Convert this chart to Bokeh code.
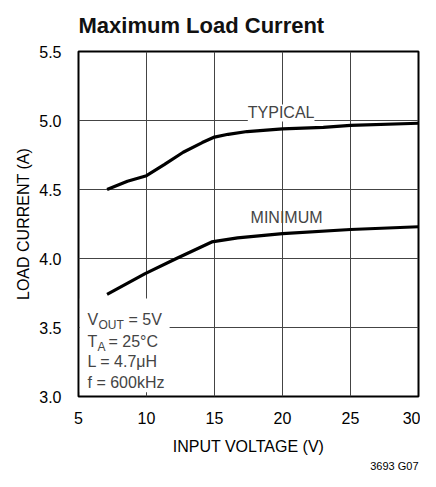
from bokeh.plotting import figure
from bokeh.models import Range1d, FixedTicker, Label, BoxAnnotation, PrintfTickFormatter, Title
from bokeh.embed import file_html
from bokeh.resources import INLINE

# ---- data ----
typ_v = [7.1, 8.6, 10.0, 11.3, 12.7, 14.1, 15.0, 16.0, 17.4, 20.0, 23.0, 25.0, 30.0]
typ_i = [4.50, 4.56, 4.60, 4.68, 4.77, 4.84, 4.88, 4.90, 4.92, 4.94, 4.95, 4.965, 4.98]
min_v = [7.1, 9.9, 12.2, 14.8, 16.7, 20.0, 25.0, 30.0]
min_i = [3.74, 3.89, 4.00, 4.12, 4.15, 4.18, 4.21, 4.23]
x_ticks = [5, 10, 15, 20, 25, 30]
y_ticks = [3.0, 3.5, 4.0, 4.5, 5.0, 5.5]

FONT = "Liberation Sans"

p = figure(width=420, height=471, output_backend="svg", toolbar_location=None,
           x_range=Range1d(5, 30), y_range=Range1d(3.0, 5.5),
           min_border_left=78, min_border_right=2, min_border_top=51, min_border_bottom=69)
p.background_fill_color = "white"
p.border_fill_color = "white"
p.outline_line_color = "black"
p.outline_line_width = 2

p.title.text = "Maximum Load Current"
p.title.text_font = FONT
p.title.text_font_style = "bold"
p.title.text_font_size = "22px"
p.title.text_color = "#111111"
p.title.align = "left"
p.title.vertical_align = "top"
p.title.standoff = 24

p.add_layout(Title(text="3693 G07", align="right", text_font=FONT, text_font_size="11px",
                   text_font_style="normal", text_color="black", standoff=0), "below")

p.xaxis.ticker = FixedTicker(ticks=x_ticks)
p.yaxis.ticker = FixedTicker(ticks=y_ticks)
p.yaxis.formatter = PrintfTickFormatter(format="%.1f")
for ax in (p.xaxis[0], p.yaxis[0]):
    ax.axis_line_color = None
    ax.major_tick_line_color = None
    ax.minor_tick_line_color = None
    ax.major_label_text_font = FONT
    ax.major_label_text_font_size = "16px"
    ax.major_label_text_color = "black"
    ax.axis_label_text_font = FONT
    ax.axis_label_text_font_size = "16px"
    ax.axis_label_text_font_style = "normal"
    ax.axis_label_text_color = "black"
p.xaxis.major_label_standoff = 9
p.yaxis.major_label_standoff = 11
p.xaxis.axis_label = "INPUT VOLTAGE (V)"
p.yaxis.axis_label = "LOAD CURRENT (A)"
p.xaxis.axis_label_standoff = 11
p.yaxis.axis_label_standoff = 4

p.xgrid.grid_line_color = "#444444"
p.ygrid.grid_line_color = "#444444"
p.xgrid.grid_line_width = 1
p.ygrid.grid_line_width = 1

p.line(typ_v, typ_i, line_color="black", line_width=3.2)
p.line(min_v, min_i, line_color="black", line_width=3.2)

p.add_layout(BoxAnnotation(left=5.1, right=11.7, bottom=3.03, top=3.71,
                           fill_color="white", fill_alpha=1.0, line_color=None))

p.add_layout(Label(x=19.9, y=5.055, text="TYPICAL", text_font=FONT, text_font_size="16px",
                   text_align="center", text_baseline="middle",
                   background_fill_color="white", background_fill_alpha=1.0))
p.add_layout(Label(x=20.3, y=4.30, text="MINIMUM", text_font=FONT, text_font_size="16px",
                   text_align="center", text_baseline="middle"))

def lab(text, dx, dy, size="16px"):
    p.add_layout(Label(x=5, y=3.0, x_offset=dx, y_offset=dy, text=text, text_font=FONT,
                       text_font_size=size, text_align="left", text_baseline="alphabetic"))

lab("V", 9, 77)
lab("OUT", 20, 72, "12px")
lab("= 5V", 50, 77)
lab("T", 9, 55)
lab("A", 19, 50, "12px")
lab("= 25°C", 30, 55)
lab("L = 4.7μH", 9, 35)
lab("f = 600kHz", 9, 14)

open("out.html", "w").write(file_html(p, INLINE))
